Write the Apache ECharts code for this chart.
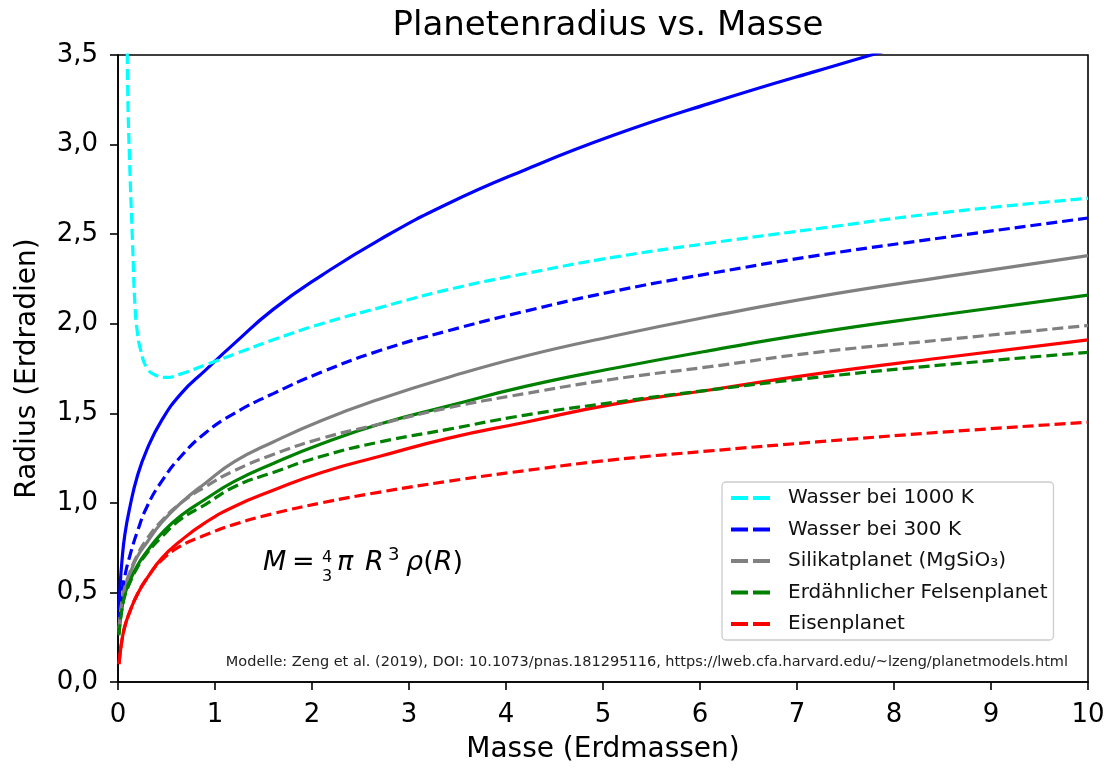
<!DOCTYPE html>
<html>
<head>
<meta charset="utf-8">
<title>Planetenradius vs. Masse</title>
<script src="https://cdn.jsdelivr.net/npm/echarts@6/dist/echarts.min.js"></script>
<style>
  html, body { margin: 0; padding: 0; background: #fff; }
  #chart { width: 1113px; height: 769px; }
</style>
</head>
<body>
<div id="chart"></div>
<script>
// Masse in Erdmassen (Stützstellen der Modellkurven, nach oben hin weiter gestuft)
const massGrid = [0.01, 0.02, 0.04, 0.07, 0.12, 0.2, 0.3, 0.45, 0.65, 0.9, 1.2, 1.6, 2.1, 2.7, 3.4, 4.2, 5.1, 6.1, 7.2, 8.5, 10];
// Wasser bei 1000 K hat eine eigene Stützstellenreihe (steiler Anstieg bei kleinen Massen)
const massHotWater = [0.095, 0.1, 0.12, 0.15, 0.175, 0.2, 0.23, 0.3, 0.4, 0.5, 0.65, 0.9, 1.2, 1.6, 2.1, 2.7, 3.4, 4.2, 5.1, 6.1, 7.2, 8.5, 10];

// Radien in Erdradien – gestrichelte Modelle (Legende)
const waterHot  = [3.6, 3.3, 2.9, 2.45, 2.1, 1.95, 1.86, 1.75, 1.71, 1.70, 1.72, 1.77, 1.83, 1.91, 2.00, 2.09, 2.19, 2.28, 2.37, 2.45, 2.53, 2.62, 2.70];
const water300  = [0.33, 0.42, 0.50, 0.59, 0.70, 0.84, 0.98, 1.12, 1.26, 1.39, 1.50, 1.61, 1.73, 1.85, 1.96, 2.07, 2.18, 2.28, 2.38, 2.48, 2.59];
const silicate  = [0.30, 0.36, 0.45, 0.53, 0.61, 0.71, 0.80, 0.90, 1.00, 1.09, 1.18, 1.27, 1.36, 1.44, 1.53, 1.61, 1.69, 1.76, 1.84, 1.91, 1.99];
const earthlike = [0.26, 0.32, 0.40, 0.48, 0.55, 0.64, 0.72, 0.81, 0.91, 0.99, 1.09, 1.17, 1.26, 1.34, 1.41, 1.49, 1.56, 1.63, 1.70, 1.77, 1.84];
const iron      = [0.10, 0.15, 0.23, 0.31, 0.39, 0.49, 0.58, 0.68, 0.76, 0.82, 0.88, 0.94, 1.00, 1.06, 1.12, 1.18, 1.24, 1.29, 1.34, 1.395, 1.45];

// Radien in Erdradien – durchgezogene Vergleichskurven
const blueSolid  = [0.40, 0.52, 0.67, 0.82, 0.97, 1.15, 1.30, 1.46, 1.61, 1.74, 1.89, 2.08, 2.27, 2.47, 2.67, 2.86, 3.05, 3.23, 3.41, 3.61, 3.81];
const graySolid  = [0.28, 0.34, 0.43, 0.52, 0.60, 0.70, 0.78, 0.89, 1.00, 1.11, 1.23, 1.34, 1.46, 1.58, 1.70, 1.82, 1.93, 2.04, 2.15, 2.26, 2.38];
const greenSolid = [0.27, 0.33, 0.41, 0.49, 0.56, 0.65, 0.73, 0.83, 0.93, 1.02, 1.12, 1.22, 1.33, 1.44, 1.54, 1.65, 1.75, 1.85, 1.95, 2.05, 2.16];
const redSolid   = [0.10, 0.15, 0.23, 0.31, 0.39, 0.49, 0.58, 0.69, 0.79, 0.89, 0.98, 1.07, 1.17, 1.26, 1.36, 1.45, 1.55, 1.63, 1.72, 1.81, 1.91];

// Achsenbereich
const xTicks = [0, 1, 2, 3, 4, 5, 6, 7, 8, 9, 10];
const yMin = 0, yMax = 3.5, yStep = 0.5;

const legendNames = ['Wasser bei 1000 K', 'Wasser bei 300 K', 'Silikatplanet (MgSiO\u2083)', 'Erdähnlicher Felsenplanet', 'Eisenplanet'];

const FONT = 'DejaVu Sans';
const pairs = (xs, ys) => xs.map((x, i) => [x, ys[i]]);

function curve(name, xs, ys, color, dashed) {
  return {
    name: name,
    type: 'line',
    data: pairs(xs, ys),
    smooth: 0.5,
    showSymbol: false,
    symbol: 'none',
    clip: true,
    silent: true,
    lineStyle: {
      color: color,
      width: 3.2,
      type: dashed ? [11, 5] : 'solid',
      cap: 'butt'
    },
    itemStyle: { color: color }
  };
}

const chart = echarts.init(document.getElementById('chart'), null, { renderer: 'canvas' });

chart.setOption({
  animation: false,
  backgroundColor: '#ffffff',
  title: {
    text: 'Planetenradius vs. Masse',
    left: 603,
    top: 4,
    textAlign: 'center',
    textStyle: { fontFamily: FONT, fontSize: 34, fontWeight: 'normal', color: '#000' }
  },
  grid: {
    left: 118, right: 25, top: 55, bottom: 85,
    show: true,
    borderColor: '#000',
    borderWidth: 1.6,
    backgroundColor: 'transparent'
  },
  legend: {
    data: legendNames,
    orient: 'vertical',
    left: 722,
    top: 482,
    padding: [5, 6, 5, 9],
    itemGap: 9.5,
    itemWidth: 39,
    itemHeight: 4,
    symbolKeepAspect: false,
    icon: 'path://M0,0H17V4H0Z M22,0H39V4H22Z',
    backgroundColor: '#ffffff',
    borderColor: '#cccccc',
    borderWidth: 1.3,
    borderRadius: 4,
    selectedMode: false,
    textStyle: { fontFamily: FONT, fontSize: 20, lineHeight: 22, color: '#111', padding: [0, 0, 0, 13] }
  },
  xAxis: {
    type: 'value',
    min: xTicks[0],
    max: xTicks[xTicks.length - 1],
    interval: 1,
    name: 'Masse (Erdmassen)',
    nameLocation: 'middle',
    nameGap: 54,
    nameTextStyle: { fontFamily: FONT, fontSize: 28, color: '#000' },
    axisLine: { show: true, onZero: false, lineStyle: { color: '#000', width: 1.6 } },
    axisTick: { show: true, inside: false, length: 8, lineStyle: { color: '#000', width: 1.6 } },
    axisLabel: { fontFamily: FONT, fontSize: 26, color: '#000', margin: 20 },
    splitLine: { show: false }
  },
  yAxis: {
    type: 'value',
    min: yMin,
    max: yMax,
    interval: yStep,
    name: 'Radius (Erdradien)',
    nameLocation: 'middle',
    nameGap: 76,
    nameRotate: 90,
    nameTextStyle: { fontFamily: FONT, fontSize: 28, color: '#000' },
    axisLine: { show: true, onZero: false, lineStyle: { color: '#000', width: 1.6 } },
    axisTick: { show: true, inside: false, length: 8, lineStyle: { color: '#000', width: 1.6 } },
    axisLabel: {
      fontFamily: FONT, fontSize: 26, color: '#000', margin: 20,
      formatter: v => v.toFixed(1).replace('.', ',')
    },
    splitLine: { show: false }
  },
  series: [
    curve('Wasser (durchgezogen)', massGrid, blueSolid, '#0000ff', false),
    curve('Silikat (durchgezogen)', massGrid, graySolid, '#808080', false),
    curve('Felsen (durchgezogen)', massGrid, greenSolid, '#008000', false),
    curve('Eisen (durchgezogen)', massGrid, redSolid, '#ff0000', false),
    curve(legendNames[0], massHotWater, waterHot, '#00ffff', true),
    curve(legendNames[1], massGrid, water300, '#0000ff', true),
    curve(legendNames[2], massGrid, silicate, '#808080', true),
    curve(legendNames[3], massGrid, earthlike, '#008000', true),
    curve(legendNames[4], massGrid, iron, '#ff0000', true)
  ],
  graphic: [
    // Massen-Radius-Beziehung: M = 4/3 π R³ ρ(R)
    {
      type: 'text', left: 263, top: 549, silent: true,
      style: { text: 'M', font: 'italic 27px "DejaVu Sans"', fill: '#000' }
    },
    {
      type: 'text', left: 292, top: 549, silent: true,
      style: { text: '=', font: '27px "DejaVu Sans"', fill: '#000' }
    },
    {
      type: 'text', left: 322, top: 550, silent: true,
      style: { text: '4', font: '16px "DejaVu Sans"', fill: '#000' }
    },
    {
      type: 'text', left: 322, top: 569, silent: true,
      style: { text: '3', font: '16px "DejaVu Sans"', fill: '#000' }
    },
    {
      type: 'text', left: 337, top: 549, silent: true,
      style: { text: 'π', font: 'italic 27px "DejaVu Sans"', fill: '#000' }
    },
    {
      type: 'text', left: 365, top: 549, silent: true,
      style: { text: 'R', font: 'italic 27px "DejaVu Sans"', fill: '#000' }
    },
    {
      type: 'text', left: 388, top: 546, silent: true,
      style: { text: '3', font: '18px "DejaVu Sans"', fill: '#000' }
    },
    {
      type: 'text', left: 406, top: 549, silent: true,
      style: {
        text: '{i|ρ}({i|R})',
        font: '27px "DejaVu Sans"', fill: '#000',
        rich: { i: { fontFamily: FONT, fontStyle: 'italic', fontSize: 27, fill: '#000' } }
      }
    },
    // Quellenangabe
    {
      type: 'text', right: 45, top: 655, silent: true,
      style: {
        text: 'Modelle: Zeng et al. (2019), DOI: 10.1073/pnas.181295116, https://lweb.cfa.harvard.edu/~lzeng/planetmodels.html',
        font: '14.5px "DejaVu Sans"', fill: '#222'
      }
    }
  ]
});
</script>
</body>
</html>
